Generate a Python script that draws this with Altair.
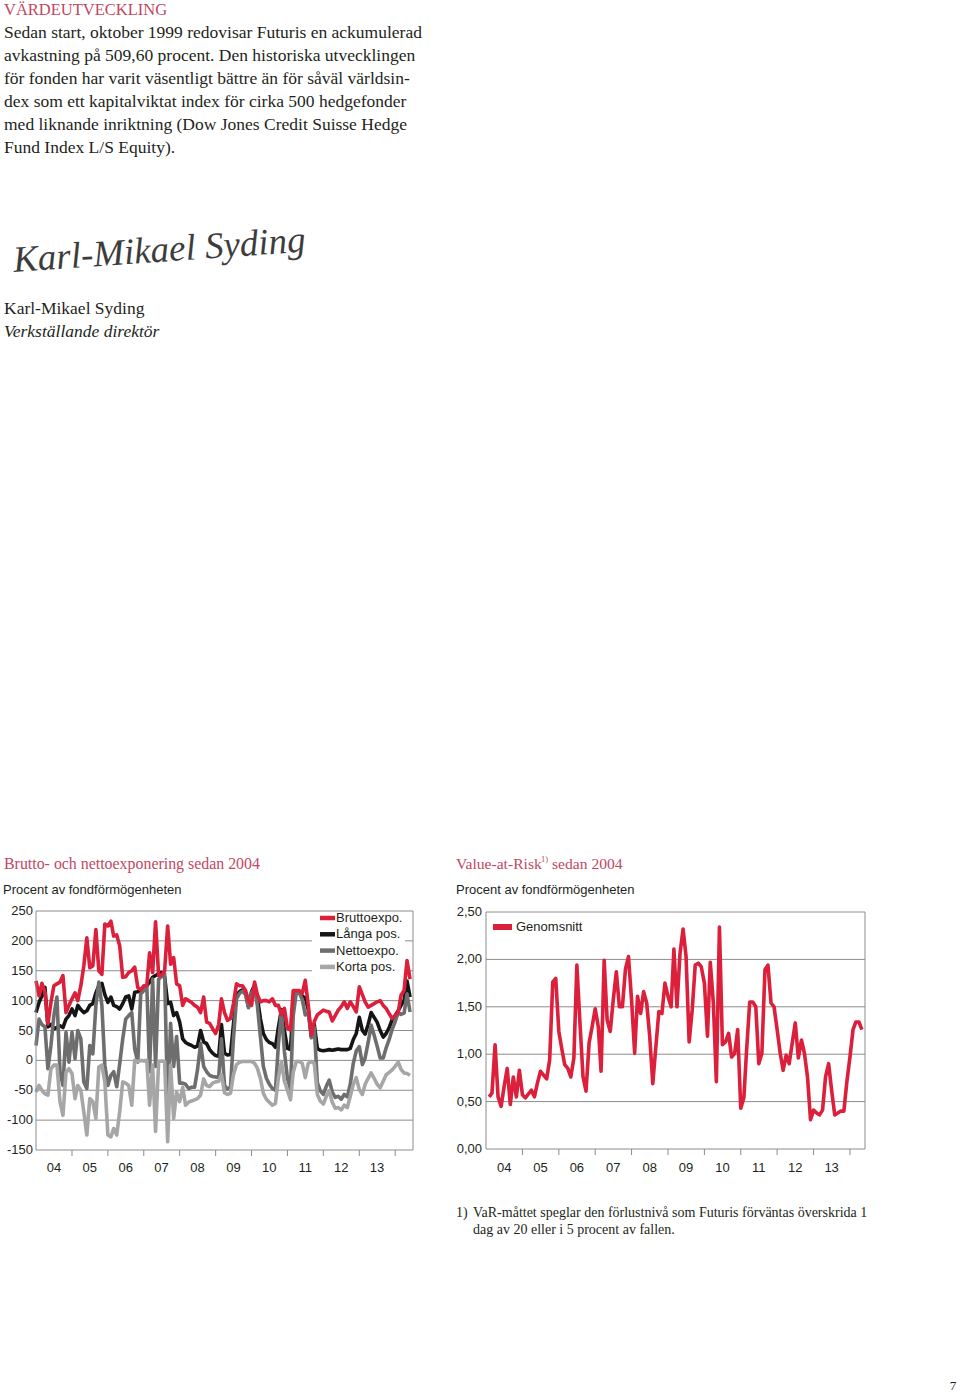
import altair as alt
import pandas as pd

# ---------------- data (monthly from Jan 2004) ----------------
expo_start = "2004-01-01"
brutto = [133, 108, 129, 114, 61, 97, 125, 128, 131, 142,
          80, 92, 103, 113, 100, 125, 158, 205, 155, 158,
          219, 150, 144, 228, 225, 233, 208, 210, 192, 139,
          140, 147, 150, 156, 122, 118, 125, 125, 180, 147,
          232, 142, 142, 150, 225, 161, 172, 128, 125, 92,
          103, 100, 97, 92, 89, 80, 106, 64, 62, 53,
          45, 60, 103, 80, 67, 70, 95, 128, 125, 125,
          117, 100, 92, 131, 110, 98, 100, 100, 98, 103,
          92, 92, 76, 87, 54, 51, 117, 117, 117, 112,
          134, 92, 42, 65, 76, 80, 84, 82, 81, 66,
          75, 84, 90, 98, 87, 98, 90, 81, 123, 110,
          98, 89, 92, 95, 98, 100, 92, 87, 78, 70,
          75, 81, 109, 117, 167, 136]
langa = [80, 97, 108, 122, 56, 60, 53, 55, 58, 55,
         69, 75, 86, 75, 92, 85, 80, 83, 92, 95,
         113, 125, 129, 110, 97, 106, 92, 90, 86, 95,
         106, 108, 86, 114, 115, 118, 122, 125, 131, 139,
         142, 145, 147, 140, 95, 97, 75, 80, 64, 36,
         30, 27, 25, 22, 24, 50, 31, 28, 18, 12,
         8, 7, 60, 12, 9, 10, 60, 110, 115, 118,
         112, 90, 115, 126, 105, 70, 45, 35, 30, 28,
         22, 55, 85, 50, 20, 18, 95, 115, 115, 107,
         105, 85, 40, 60, 20, 17, 16, 17, 18, 17,
         18, 19, 18, 18, 18, 20, 35, 45, 72, 50,
         44, 60, 80, 72, 64, 50, 39, 45, 55, 68,
         75, 83, 92, 100, 133, 106]
netto = [25, 69, 60, 56, -14, 25, 75, 106, -19, -42,
         47, -3, 47, 3, 50, 36, -36, -47, 25, 11,
         92, 131, 92, -8, -42, -25, -19, -44, -6, 36,
         69, 75, 80, 19, -3, 111, 117, 125, -19, 136,
         -10, 136, 140, 145, -77, 62, -10, 40, -38, -38,
         -40, -47, -45, -45, -15, 28, -10, -19, -25, -27,
         -28, -28, 36, -42, -48, -45, 36, 103, 112, 116,
         110, 88, 113, 121, 92, 40, -10, -30, -40, -47,
         -50, 26, 83, 15, -30, -48, 75, 113, 113, 102,
         76, 80, 38, 55, -37, -51, -57, -43, -33, -53,
         -62, -60, -65, -57, -61, -40, -5, 16, 23, -7,
         4, 30, 59, 42, 24, 4, 4, 21, 35, 52,
         65, 80, 77, 79, 111, 81]
korta = [-53, -42, -50, -56, -58, -14, -8, -8, -69, -92,
         -20, -14, -22, -64, -42, -50, -86, -125, -64, -69,
         -97, -11, -8, -36, -125, -128, -114, -125, -86, -36,
         -38, -42, -75, 0, -2, 0, -1, 0, -75, -8,
         -119, -2, -1, -2, -136, -8, -97, -53, -69, -45,
         -75, -70, -68, -66, -64, -58, -31, -42, -44, -38,
         -36, -35, -24, -54, -57, -55, -24, -7, -3, -2,
         -2, -2, -2, -5, -13, -30, -55, -65, -70, -75,
         -72, -29, -2, -35, -50, -66, -20, -2, -2, -5,
         -29, -5, -2, -5, -57, -68, -73, -60, -51, -70,
         -80, -79, -83, -75, -79, -60, -40, -29, -49, -57,
         -40, -30, -21, -30, -40, -46, -35, -24, -20, -16,
         -10, -3, -15, -21, -22, -25]

var_start = "2004-02-01"
var_genomsnitt = [0.55, 0.59, 1.10, 0.55, 0.45, 0.66, 0.85, 0.47, 0.76, 0.55,
                  0.83, 0.57, 0.54, 0.58, 0.62, 0.55, 0.70, 0.82, 0.78, 0.74,
                  0.94, 1.76, 1.80, 1.24, 1.05, 0.89, 0.85, 0.76, 0.96, 1.94,
                  1.33, 0.76, 0.61, 1.12, 1.29, 1.48, 1.29, 0.82, 1.99, 1.36,
                  1.24, 1.57, 1.87, 1.50, 1.50, 1.90, 2.03, 1.57, 1.01, 1.61,
                  1.43, 1.66, 1.54, 1.19, 0.69, 1.08, 1.45, 1.43, 1.75, 1.61,
                  1.50, 2.11, 1.50, 2.06, 2.32, 2.03, 1.13, 1.47, 1.94, 1.96,
                  1.92, 1.75, 1.19, 1.97, 1.54, 0.71, 2.34, 1.10, 1.13, 1.22,
                  0.97, 1.01, 1.26, 0.43, 0.54, 1.05, 1.55, 1.55, 1.50, 0.90,
                  1.01, 1.89, 1.94, 1.54, 1.50, 1.26, 1.01, 0.83, 0.99, 0.90,
                  1.12, 1.33, 0.96, 1.15, 1.01, 0.76, 0.31, 0.41, 0.38, 0.36,
                  0.41, 0.76, 0.90, 0.62, 0.36, 0.38, 0.40, 0.40, 0.71, 0.97,
                  1.26, 1.34, 1.34, 1.26]

year_labels = ["04", "05", "06", "07", "08", "09", "10", "11", "12", "13"]
left_ticks = [250, 200, 150, 100, 50, 0, -50, -100, -150]
left_tick_labels = ["250", "200", "150", "100", "50", "0", "-50", "-100", "-150"]
right_ticks = [2.5, 2.0, 1.5, 1.0, 0.5, 0.0]
right_tick_labels = ["2,50", "2,00", "1,50", "1,00", "0,50", "0,00"]
legend_left = ["Bruttoexpo.", "Långa pos.", "Nettoexpo.", "Korta pos."]
legend_right = ["Genomsnitt"]

heading = "VÄRDEUTVECKLING"
intro_lines = [
    "Sedan start, oktober 1999 redovisar Futuris en ackumulerad",
    "avkastning på 509,60 procent. Den historiska utvecklingen",
    "för fonden har varit väsentligt bättre än för såväl världsin-",
    "dex som ett kapitalviktat index för cirka 500 hedgefonder",
    "med liknande inriktning (Dow Jones Credit Suisse Hedge",
    "Fund Index L/S Equity).",
]
signer = "Karl-Mikael Syding"
signer_role = "Verkställande direktör"
left_title = "Brutto- och nettoexponering sedan 2004"
right_title_a = "Value-at-Risk"
right_title_sup = "1)"
right_title_b = "sedan 2004"
unit_label = "Procent av fondförmögenheten"
footnote_mark = "1)"
footnote_lines = ["VaR-måttet speglar den förlustnivå som Futuris förväntas överskrida 1",
                  "dag av 20 eller i 5 procent av fallen."]
page_no = "7"

# ---------------- styling / layout ----------------
SERIF = "Liberation Serif"
SANS = "Liberation Sans"
INK = "#231f20"
TITLE_RED = "#bf4862"
GRID = "#8c8c8c"
RED = "#dc1f3b"
COLORS = ["#dc1f3b", "#151515", "#6e6e6e", "#a6a6a6"]

LX0, LX1, LY0, LY1 = 36, 413, 911, 1150
RX0, RX1, RY0, RY1 = 486, 865, 912, 1149

ONE = pd.DataFrame({"k": [0]})


def monthly(values, start):
    d = pd.date_range(start, periods=len(values), freq="MS").strftime("%Y-%m-%d")
    return pd.DataFrame({"datum": list(d), "varde": values})


lx = alt.Scale(domain=[alt.DateTime(year=2004, month=1, date=1, utc=True),
                       alt.DateTime(year=2014, month=7, date=1, utc=True)],
               range=[LX0, LX1], nice=False)
ly = alt.Scale(domain=[-150, 250], range=[LY1, LY0], nice=False, zero=False)
rx = alt.Scale(domain=[alt.DateTime(year=2004, month=1, date=1, utc=True),
                       alt.DateTime(year=2014, month=6, date=1, utc=True)],
               range=[RX0, RX1], nice=False)
ry = alt.Scale(domain=[0, 2.5], range=[RY1, RY0], nice=False, zero=False)


def txt(text, x, y, size, font=SERIF, color=INK, style="normal", align="left",
        baseline="alphabetic", line_height=None, angle=None, opacity=None):
    kw = dict(text=text, font=font, fontSize=size, color=color, fontStyle=style,
              align=align, baseline=baseline)
    if line_height is not None:
        kw["lineHeight"] = line_height
    if angle is not None:
        kw["angle"] = angle
    if opacity is not None:
        kw["opacity"] = opacity
    return alt.Chart(ONE).mark_text(**kw).encode(x=alt.value(x), y=alt.value(y))


def grid(values, ys, x0, x1):
    return alt.Chart(pd.DataFrame({"v": values})).mark_rule(color=GRID, strokeWidth=1).encode(
        y=alt.Y("v:Q", scale=ys, axis=None), x=alt.value(x0), x2=alt.value(x1))


def frame(x0, x1, y0, y1):
    return alt.Chart(ONE).mark_rect(fillOpacity=0, stroke=GRID, strokeWidth=1).encode(
        x=alt.value(x0), x2=alt.value(x1), y=alt.value(y0), y2=alt.value(y1))


def line(values, start, color, xs, ys):
    return alt.Chart(monthly(values, start)).mark_line(
        color=color, strokeWidth=3.6, strokeJoin="round").encode(
        x=alt.X("datum:T", scale=xs, axis=None),
        y=alt.Y("varde:Q", scale=ys, axis=None))


def year_ticks(xs, ybottom):
    df = pd.DataFrame({"datum": [f"20{int(l) + 1:02d}-01-01" for l in year_labels]})
    return alt.Chart(df).mark_rule(color=GRID, strokeWidth=1).encode(
        x=alt.X("datum:T", scale=xs, axis=None), y=alt.value(ybottom), y2=alt.value(ybottom + 6))


def year_text(xs, ypos):
    df = pd.DataFrame({"datum": [f"20{l}-07-01" for l in year_labels], "t": year_labels})
    return alt.Chart(df).mark_text(font=SANS, fontSize=13, color=INK, align="center",
                                   baseline="middle").encode(
        x=alt.X("datum:T", scale=xs, axis=None), y=alt.value(ypos), text="t:N")


def value_text(ticks, labels, ys, xpos):
    df = pd.DataFrame({"v": ticks, "t": labels})
    return alt.Chart(df).mark_text(font=SANS, fontSize=13, color=INK, align="right",
                                   baseline="middle").encode(
        y=alt.Y("v:Q", scale=ys, axis=None), x=alt.value(xpos), text="t:N")


# ---------------- left chart ----------------
left_layers = [
    grid(left_ticks[1:-1], ly, LX0, LX1),
    alt.Chart(ONE).mark_rect(color="white").encode(
        x=alt.value(312), x2=alt.value(405), y=alt.value(LY0 + 1), y2=alt.value(976)),
    line(langa, expo_start, COLORS[1], lx, ly),
    line(netto, expo_start, COLORS[2], lx, ly),
    line(korta, expo_start, COLORS[3], lx, ly),
    line(brutto, expo_start, COLORS[0], lx, ly),
    frame(LX0, LX1, LY0, LY1),
    year_ticks(lx, LY1),
    year_text(lx, 1168),
    value_text(left_ticks, left_tick_labels, ly, 33),
]
for i, (lab, col) in enumerate(zip(legend_left, COLORS)):
    yy = 918 + i * 16.3
    left_layers.append(alt.Chart(ONE).mark_rule(color=col, strokeWidth=4.5).encode(
        x=alt.value(320), x2=alt.value(335), y=alt.value(yy)))
    left_layers.append(txt(lab, 336, yy, 13, font=SANS, baseline="middle"))
left = alt.layer(*left_layers)

# ---------------- right chart ----------------
right_layers = [
    grid(right_ticks[1:-1], ry, RX0, RX1),
    line(var_genomsnitt, var_start, RED, rx, ry),
    frame(RX0, RX1, RY0, RY1),
    year_ticks(rx, RY1),
    year_text(rx, 1168),
    value_text(right_ticks, right_tick_labels, ry, 482),
    alt.Chart(ONE).mark_rect(color=RED).encode(
        x=alt.value(493), x2=alt.value(512), y=alt.value(924), y2=alt.value(930)),
    txt(legend_right[0], 516, 927, 13, font=SANS, baseline="middle"),
]
right = alt.layer(*right_layers)

# ---------------- page text ----------------
texts = [
    txt(heading, 4, 15, 16.5, color=TITLE_RED),
    txt(intro_lines, 4, 38, 17.5, line_height=23),
    txt(signer, 14, 272, 37, style="italic", color="#1b1b1b", angle=356, opacity=0.85),
    txt(signer, 4, 314, 17.5),
    txt(signer_role, 4, 337, 17.5, style="italic"),
    txt(left_title, 4, 869, 15.9, color=TITLE_RED),
    txt(unit_label, 3, 894, 13, font=SANS),
    txt(right_title_a, 456, 869, 15.6, color=TITLE_RED),
    txt(right_title_sup, 541, 862, 8.5, color=TITLE_RED),
    txt(right_title_b, 552, 869, 15.6, color=TITLE_RED),
    txt(unit_label, 456, 894, 13, font=SANS),
    txt(footnote_mark, 456, 1217, 14),
    txt(footnote_lines, 473, 1217, 14, line_height=17),
    txt(page_no, 953, 1390, 13, align="center"),
]

chart = alt.layer(left, right, *texts).resolve_scale(
    x="independent", y="independent"
).properties(
    width=960, height=1392, padding=0, background="white",
    autosize=alt.AutoSizeParams(type="none"),
).configure_view(stroke="transparent")

chart.save("out.html", embed_options={"renderer": "svg", "actions": False})
